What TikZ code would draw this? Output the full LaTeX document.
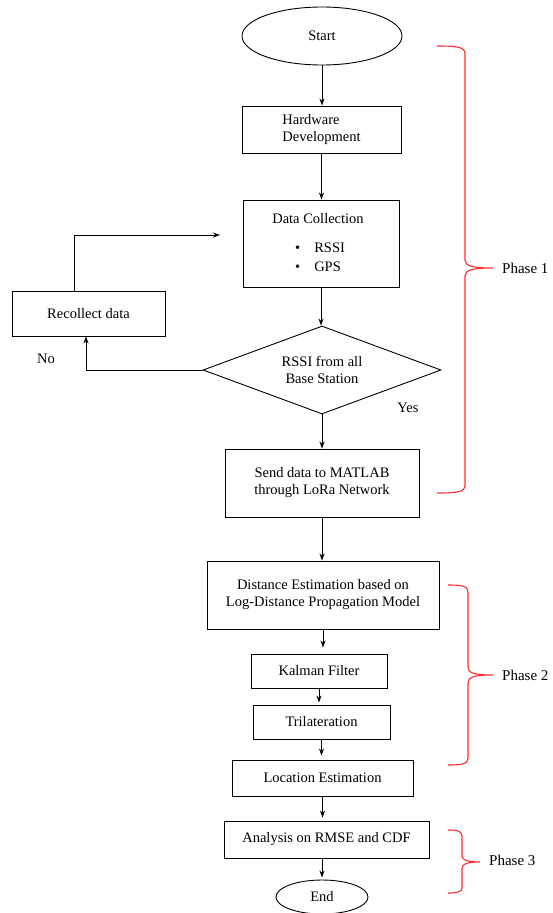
\documentclass[tikz,border=0pt]{standalone}
\usepackage{fontspec}
\setmainfont{Liberation Serif}
\usetikzlibrary{shapes.geometric,arrows.meta}
\definecolor{brc}{RGB}{255,45,45}
\begin{document}
\begin{tikzpicture}[x=1pt,y=-1pt,
  every node/.style={font=\fontsize{14.5}{17}\selectfont, inner sep=0pt},
  box/.style={draw, line width=0.9pt, rectangle, align=center},
  term/.style={draw, line width=0.9pt, ellipse, align=center},
  arr/.style={-{Stealth[length=7pt,width=5pt]}, line width=0.9pt},
  brace/.style={draw=brc, line width=1.1pt},
  phase/.style={anchor=west, font=\fontsize{15}{17}\selectfont}
]
\useasboundingbox (0,0) rectangle (553,913);

% nodes
\node[term, minimum width=160pt, minimum height=58pt] (start) at (322,36) {Start};
\node[box, minimum width=159pt, minimum height=47pt, align=left] (hw) at (321.5,129.5) {Hardware\\Development};
\node[box, minimum width=156pt, minimum height=87pt] (dc) at (321,243.5) {};
\node (dct) at (318,219) {Data Collection};
\node[anchor=west] (dcb1) at (295,248) {\textbullet\hspace{14pt}RSSI};
\node[anchor=west] (dcb2) at (295,267) {\textbullet\hspace{14pt}GPS};
\node[box, minimum width=153pt, minimum height=45pt] (rec) at (88.5,313.5) {Recollect data};
\node[diamond, draw, line width=0.9pt, minimum width=238pt, minimum height=88pt, aspect=2.7, align=center] (dia) at (322,370) {RSSI from all\\Base Station};
\node (no) at (46,359) {No};
\node (yes) at (408,408) {Yes};
\node[box, minimum width=194pt, minimum height=68pt] (send) at (322,483) {Send data to MATLAB\\through LoRa Network};
\node[box, minimum width=232pt, minimum height=68pt] (dist) at (323,595) {Distance Estimation based on\\Log-Distance Propagation Model};
\node[box, minimum width=136pt, minimum height=34pt] (kal) at (319,671) {Kalman Filter};
\node[box, minimum width=137pt, minimum height=34pt] (tri) at (321.5,722) {Trilateration};
\node[box, minimum width=181pt, minimum height=36pt] (loc) at (322.5,778) {Location Estimation};
\node[box, minimum width=205pt, minimum height=37pt] (ana) at (326.5,839.5) {Analysis on RMSE and CDF};
\node[term, minimum width=92pt, minimum height=34pt] (end) at (322,897) {End};

% phase labels
\node[phase] (p1) at (502,268) {Phase 1};
\node[phase] (p2) at (502,675) {Phase 2};
\node[phase] (p3) at (489,860) {Phase 3};

% connectors
\draw[arr] (start.south) -- (start.south |- hw.north);
\draw[arr] (hw.south) -- (hw.south |- dc.north);
\draw[arr] (dc.south) -- (dc.south |- dia.north);
\draw[arr] (dia.south) -- (dia.south |- send.north);
\draw[arr] (send.south) -- (send.south |- dist.north);
\draw[arr, shorten >=6pt] (dist.south) -- (dist.south |- kal.north);
\draw[arr, shorten >=2pt] (kal.south) -- (kal.south |- tri.north);
\draw[arr, shorten >=4pt] (tri.south) -- (tri.south |- loc.north);
\draw[arr, shorten >=3pt] (loc.south) -- (loc.south |- ana.north);
\draw[arr, shorten >=2pt] (end.north |- ana.south) -- (end.north);

\coordinate (loopend) at (220,235);
\draw[arr] ([xshift=-14.5pt]rec.north) |- (loopend);
\draw[arr] (dia.west) -| ([xshift=-2.5pt]rec.south);

% brackets
\draw[brace] (437,46) .. controls (458,46) and (465,47) .. (465,54) -- (465,260)
  .. controls (465,266) and (472,268) .. (493,268)
  .. controls (472,268) and (465,270) .. (465,276) -- (465,485)
  .. controls (465,492) and (458,493) .. (437,493);
\draw[brace] (448,585) .. controls (462,585) and (468,586) .. (468,592) -- (468,667)
  .. controls (468,673) and (474,675) .. (493,675)
  .. controls (474,675) and (468,677) .. (468,683) -- (468,758)
  .. controls (468,764) and (462,765) .. (448,765);
\draw[brace] (448,830) .. controls (457,830) and (462,831) .. (462,836) -- (462,856)
  .. controls (462,860) and (467,862) .. (480,862)
  .. controls (467,862) and (462,864) .. (462,868) -- (462,888)
  .. controls (462,892) and (457,893) .. (448,893);
\end{tikzpicture}
\end{document}
